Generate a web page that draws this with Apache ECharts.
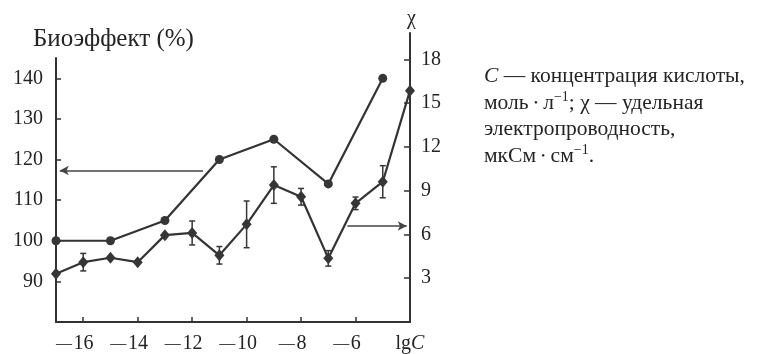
<!DOCTYPE html>
<html>
<head>
<meta charset="utf-8">
<script src="https://cdn.jsdelivr.net/npm/echarts@6/dist/echarts.min.js"></script>
<style>
html,body{margin:0;padding:0;background:#fff;}
#chart{width:761px;height:354px;}
</style>
</head>
<body>
<div id="chart"></div>
<script>
// ---- data ----
const bioX = [-17, -15, -13, -11, -9, -7, -5];
const bioEffect = [100, 100, 105, 120, 125, 114, 140];
const chiX = [-17, -16, -15, -14, -13, -12, -11, -10, -9, -8, -7, -6, -5, -4];
const chiValues = [3.3, 4.1, 4.4, 4.1, 5.95, 6.1, 4.57, 6.69, 9.38, 8.58, 4.36, 8.13, 9.61, 15.85];
const errX = [-16, -12, -11, -10, -9, -8, -7, -6, -5];
const errY = [4.1, 6.1, 4.57, 6.69, 9.38, 8.58, 4.36, 8.13, 9.61];
const errVal = [0.6, 0.82, 0.6, 1.6, 1.25, 0.57, 0.53, 0.43, 1.1];
const xTicks = [-16, -14, -12, -10, -8, -6];
const xLabels = [-16, -14, -12, -10, -8, -6, -4];
const leftTicks = [90, 100, 110, 120, 130, 140];
const rightTicks = [3, 6, 9, 12, 15, 18];
const arrowBioX = [-11.6, -16.86];
const arrowBioY = [117.3, 117.3];
const arrowChiX = [-6.3, -4.12];
const arrowChiY = [6.58, 6.58];

const INK = '#333333';
const TXT = '#242424';
const FONT = "'Liberation Serif', 'DejaVu Serif', serif";

const chart = echarts.init(document.getElementById('chart'), null, {renderer: 'canvas'});

const option = {
  backgroundColor: '#ffffff',
  animation: false,
  grid: [
    {left: 56, right: 351, top: 58, bottom: 32},
    {left: 56, right: 351, top: 33, bottom: 32}
  ],
  xAxis: [
    {gridIndex: 0, type: 'value', min: -17, max: -4, show: false},
    {
      gridIndex: 1, type: 'value', min: -17, max: -4,
      axisLine: {show: true, onZero: false, lineStyle: {color: INK, width: 2}},
      axisTick: {show: true, inside: true, length: 5, customValues: xTicks, lineStyle: {color: INK, width: 1.5}},
      axisLabel: {
        show: true, margin: 12, customValues: xLabels, showMinLabel: true, showMaxLabel: true,
        color: TXT, fontFamily: FONT, fontSize: 20, padding: [0, 17, 0, 0],
        formatter: function (v) {
          if (v === -4) return '{l|lg}{c|C}';
          return (v < 0 ? '{m|—}\u200a' : '') + Math.abs(v);
        },
        rich: {
          m: {fontFamily: FONT, fontSize: 16, color: TXT},
          l: {fontFamily: FONT, fontSize: 20, color: TXT, padding: [0, 0, 0, 17]},
          c: {fontFamily: FONT, fontSize: 20, color: TXT, fontStyle: 'italic'}
        }
      },
      splitLine: {show: false}
    }
  ],
  yAxis: [
    {
      gridIndex: 0, type: 'value', min: 80, max: 145, position: 'left',
      axisLine: {show: true, lineStyle: {color: INK, width: 2}},
      axisTick: {show: true, inside: true, length: 5, customValues: leftTicks, lineStyle: {color: INK, width: 1.5}},
      axisLabel: {show: true, margin: 13, customValues: leftTicks, color: TXT, fontFamily: FONT, fontSize: 20},
      splitLine: {show: false}
    },
    {
      gridIndex: 1, type: 'value', min: 0, max: 19.8, position: 'right',
      axisLine: {show: true, lineStyle: {color: INK, width: 2}},
      axisTick: {show: true, inside: true, length: 6, customValues: rightTicks, lineStyle: {color: INK, width: 1.5}},
      axisLabel: {show: true, margin: 11, customValues: rightTicks, color: TXT, fontFamily: FONT, fontSize: 20},
      splitLine: {show: false}
    }
  ],
  series: [
    {
      name: 'Биоэффект',
      type: 'line', xAxisIndex: 0, yAxisIndex: 0, clip: false,
      data: bioX.map((x, i) => [x, bioEffect[i]]),
      symbol: 'circle', symbolSize: 9,
      itemStyle: {color: '#363636'},
      lineStyle: {color: INK, width: 2.2},
      z: 3,
      markLine: {
        silent: true, symbol: ['none', 'arrow'], symbolSize: [7, 9],
        label: {show: false},
        lineStyle: {color: '#444444', width: 1.6, type: 'solid'},
        data: [[{coord: [arrowBioX[0], arrowBioY[0]]}, {coord: [arrowBioX[1], arrowBioY[1]]}]]
      }
    },
    {
      name: 'χ',
      type: 'line', xAxisIndex: 1, yAxisIndex: 1, clip: false,
      data: chiX.map((x, i) => [x, chiValues[i]]),
      symbol: 'diamond', symbolSize: [10, 12],
      itemStyle: {color: '#363636'},
      lineStyle: {color: INK, width: 2.2},
      z: 4,
      markLine: {
        silent: true, symbol: ['none', 'arrow'], symbolSize: [7, 9],
        label: {show: false},
        lineStyle: {color: '#444444', width: 1.6, type: 'solid'},
        data: [[{coord: [arrowChiX[0], arrowChiY[0]]}, {coord: [arrowChiX[1], arrowChiY[1]]}]]
      }
    },
    {
      name: 'err',
      type: 'custom', xAxisIndex: 1, yAxisIndex: 1, clip: false,
      data: errX.map((x, i) => [x, errY[i], errVal[i]]),
      encode: {x: 0, y: 1},
      z: 5,
      renderItem: function (params, api) {
        const x = api.value(0), y = api.value(1), e = api.value(2);
        const t = api.coord([x, y + e]);
        const b = api.coord([x, y - e]);
        const w = 3;
        const st = {stroke: '#363636', lineWidth: 1.5};
        return {
          type: 'group',
          children: [
            {type: 'line', shape: {x1: t[0], y1: t[1], x2: b[0], y2: b[1]}, style: st},
            {type: 'line', shape: {x1: t[0] - w, y1: t[1], x2: t[0] + w, y2: t[1]}, style: st},
            {type: 'line', shape: {x1: b[0] - w, y1: b[1], x2: b[0] + w, y2: b[1]}, style: st}
          ]
        };
      }
    }
  ],
  graphic: [
    {
      type: 'text', left: 33, top: 27,
      style: {text: 'Биоэффект (%)', font: '25px ' + FONT, fill: TXT, lineHeight: 25}
    },
    {
      type: 'text', x: 411.5, y: 19,
      style: {text: 'χ', font: '20px ' + FONT, fill: TXT, align: 'center', verticalAlign: 'middle'}
    },
    {
      type: 'text', x: 484, y: 63.5,
      style: {
        text: '{i|C} — концентрация кислоты,\nмоль {d|•} л{s|−1}; χ — удельная\nэлектропроводность,\nмкСм {d|•} см{s|−1}.',
        font: '21.5px ' + FONT, fill: TXT, lineHeight: 26.5,
        verticalAlign: 'top', align: 'left',
        rich: {
          i: {fontFamily: FONT, fontSize: 21.5, fontStyle: 'italic', fill: TXT, lineHeight: 26.5},
          d: {fontFamily: FONT, fontSize: 11, fill: TXT, lineHeight: 26.5},
          s: {fontFamily: FONT, fontSize: 14, fill: TXT, lineHeight: 14, verticalAlign: 'top'}
        }
      }
    }
  ]
};

chart.setOption(option);
</script>
</body>
</html>
